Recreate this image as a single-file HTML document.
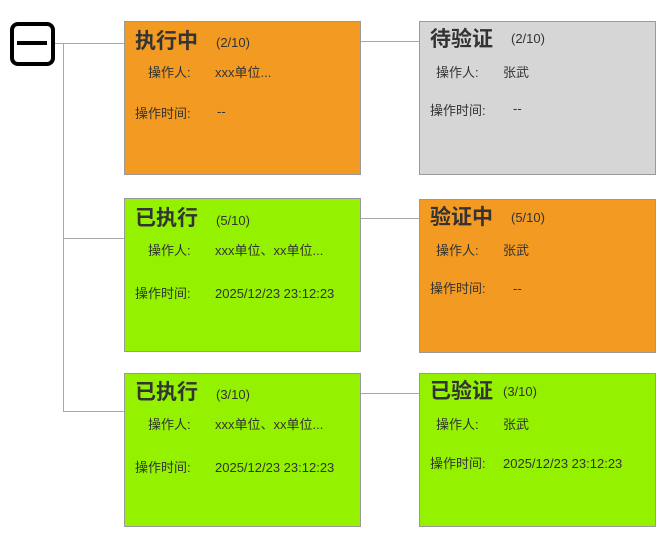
<!DOCTYPE html>
<html><head><meta charset="utf-8"><style>
body{margin:0;width:663px;height:537px;background:#fff;position:relative;overflow:hidden;font-family:"Liberation Sans","Noto Sans CJK SC",sans-serif;color:#333}
.b{position:absolute;width:235px;height:152px;border:1px solid #9a9a9a;box-sizing:content-box}
.o{background:#f39a22}.g{background:#94f201}.y{background:#d6d6d6}
.t{position:absolute;font-size:21px;font-weight:bold;white-space:nowrap;line-height:24px}
.s{position:absolute;font-size:13px;white-space:nowrap;line-height:14px;margin-top:-1px}
.l{position:absolute;background:#a8a8a8}
</style></head><body>
<div style="position:absolute;left:10px;top:22px;width:37px;height:36px;border:4px solid #000;border-radius:8px"></div>
<div style="position:absolute;left:17px;top:41px;width:30px;height:4px;background:#000"></div>
<div class="l" style="left:55px;top:43px;width:69px;height:1px"></div>
<div class="l" style="left:63px;top:43px;width:1px;height:369px"></div>
<div class="l" style="left:63px;top:238px;width:61px;height:1px"></div>
<div class="l" style="left:63px;top:411px;width:61px;height:1px"></div>
<div class="l" style="left:361px;top:41px;width:58px;height:1px"></div>
<div class="l" style="left:361px;top:218px;width:58px;height:1px"></div>
<div class="l" style="left:361px;top:393px;width:58px;height:1px"></div>

<div class="b o" style="left:124px;top:21px"></div>
<div class="t" style="left:135px;top:30px">执行中</div><div class="s" style="left:216px;top:37px">(2/10)</div>
<div class="s" style="left:148px;top:67px">操作人:</div><div class="s" style="left:215px;top:67px">xxx单位...</div>
<div class="s" style="left:135px;top:108px">操作时间:</div><div class="s" style="left:217px;top:106px">--</div>

<div class="b g" style="left:124px;top:198px"></div>
<div class="t" style="left:135px;top:207px">已执行</div><div class="s" style="left:216px;top:215px">(5/10)</div>
<div class="s" style="left:148px;top:245px">操作人:</div><div class="s" style="left:215px;top:245px">xxx单位、xx单位...</div>
<div class="s" style="left:135px;top:288px">操作时间:</div><div class="s" style="left:215px;top:288px">2025/12/23 23:12:23</div>

<div class="b g" style="left:124px;top:373px"></div>
<div class="t" style="left:135px;top:381px">已执行</div><div class="s" style="left:216px;top:389px">(3/10)</div>
<div class="s" style="left:148px;top:419px">操作人:</div><div class="s" style="left:215px;top:419px">xxx单位、xx单位...</div>
<div class="s" style="left:135px;top:462px">操作时间:</div><div class="s" style="left:215px;top:462px">2025/12/23 23:12:23</div>

<div class="b y" style="left:419px;top:21px"></div>
<div class="t" style="left:430px;top:28px">待验证</div><div class="s" style="left:511px;top:33px">(2/10)</div>
<div class="s" style="left:436px;top:67px">操作人:</div><div class="s" style="left:503px;top:67px">张武</div>
<div class="s" style="left:430px;top:105px">操作时间:</div><div class="s" style="left:513px;top:103px">--</div>

<div class="b o" style="left:419px;top:199px"></div>
<div class="t" style="left:430px;top:206px">验证中</div><div class="s" style="left:511px;top:212px">(5/10)</div>
<div class="s" style="left:436px;top:245px">操作人:</div><div class="s" style="left:503px;top:245px">张武</div>
<div class="s" style="left:430px;top:283px">操作时间:</div><div class="s" style="left:513px;top:283px">--</div>

<div class="b g" style="left:419px;top:373px"></div>
<div class="t" style="left:430px;top:380px">已验证</div><div class="s" style="left:503px;top:386px">(3/10)</div>
<div class="s" style="left:436px;top:419px">操作人:</div><div class="s" style="left:503px;top:419px">张武</div>
<div class="s" style="left:430px;top:458px">操作时间:</div><div class="s" style="left:503px;top:458px">2025/12/23 23:12:23</div>
</body></html>
